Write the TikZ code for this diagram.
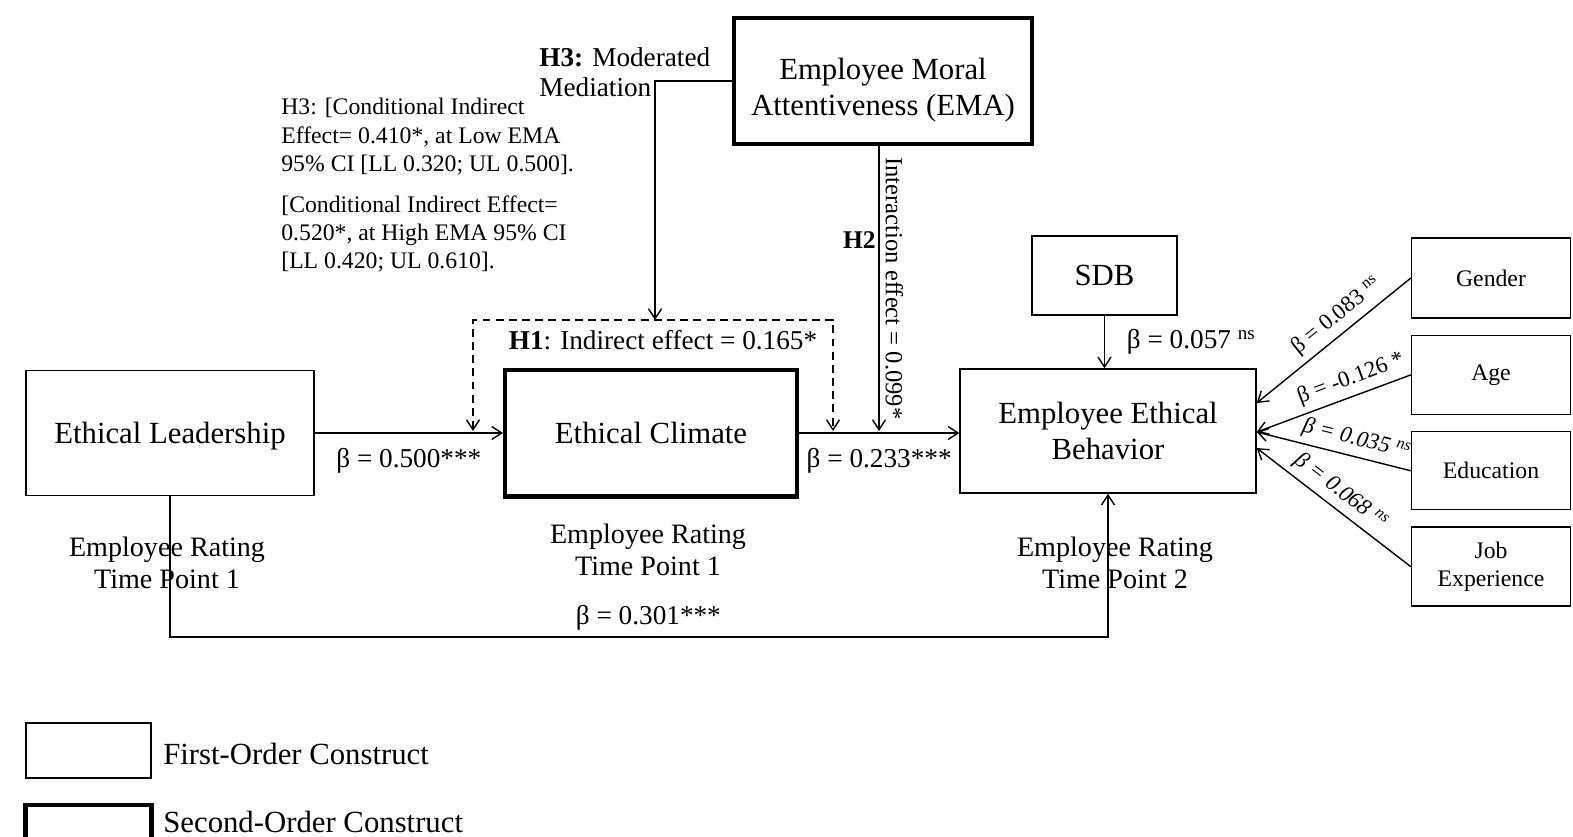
\documentclass[tikz,border=0pt]{standalone}
\usepackage{fontspec}
\setmainfont{Liberation Serif}
\usetikzlibrary{arrows.meta,positioning,calc}

\tikzset{
  construct/.style={draw, line width=0.8pt, align=center, font=\fontsize{17.5}{20.5}\selectfont},
  second/.style={construct, line width=2.3pt},
  control/.style={draw, line width=0.8pt, align=center, minimum width=3.18cm, font=\fontsize{13.5}{16}\selectfont},
  link/.style={line width=0.8pt, -{Straight Barb[length=2mm,width=2.6mm]}},
  dlink/.style={line width=0.8pt, dash pattern=on 4.5pt off 3pt, {Straight Barb[length=2mm,width=2.6mm]}-{Straight Barb[length=2mm,width=2.6mm]}},
  coef/.style={font=\fontsize{15.5}{18}\selectfont},
  ctlcoef/.style={sloped, above, font=\fontsize{13}{15}\selectfont},
  ctlslant/.style={ctlcoef, font=\fontsize{13}{15}\selectfont\itshape},
  note/.style={anchor=north west, align=left, inner sep=0pt, font=\fontsize{13.5}{16.2}\selectfont},
  rating/.style={align=center, font=\fontsize{16}{18}\selectfont}
}

\begin{document}
\begin{tikzpicture}[x=0.02cm, y=-0.02cm]
  \clip (0,0) rectangle (1573,836);

  \node[construct, text depth=0pt, minimum width=5.76cm, minimum height=2.5cm] (el) at (170,433) {Ethical Leadership};
  \node[second, text depth=0pt, minimum width=5.84cm, minimum height=2.54cm] (ec) at (651,433) {Ethical Climate};
  \node[second, minimum width=5.96cm, minimum height=2.52cm] (ema) at (883,81) {\rule{0pt}{22pt}Employee Moral\\Attentiveness (EMA)};
  \node[construct, minimum width=5.92cm, minimum height=2.48cm] (eeb) at (1108,431) {Employee Ethical\\Behavior};
  \node[construct, minimum width=2.9cm, minimum height=1.58cm] (sdb) at (1104.5,275.5) {SDB};

  \node[control, minimum height=1.6cm] (gender) at (1491,278) {Gender};
  \node[control, minimum height=1.58cm, below=0.32cm of gender] (age) {Age};
  \node[control, minimum height=1.56cm, below=0.32cm of age] (edu) {Education};
  \node[control, minimum height=1.58cm, below=0.32cm of edu] (jobexp) {Job\\Experience};

  \node[rating] (rate1) at (167,563) {Employee Rating\\Time Point 1};
  \node[rating] (rate2) at (648,550) {Employee Rating\\Time Point 1};
  \node[rating] (rate3) at (1115,563) {Employee Rating\\Time Point 2};

  \node[coef] (h1) at (663,340) {\textbf{H1}: Indirect effect = 0.165*};
  \node[anchor=north west, align=left, inner sep=0pt, font=\fontsize{15.5}{17}\selectfont] (h3) at (539,47) {\textbf{H3:} Moderated\\Mediation};
  \node[note] (cie1) at (281,98) {H3: [Conditional Indirect\\Effect= 0.410*, at Low EMA\\95\% CI [LL 0.320; UL 0.500].};
  \node[note] (cie2) at (281,195) {[Conditional Indirect Effect=\\0.520*, at High EMA 95\% CI\\{[}LL 0.420; UL 0.610].};

  \coordinate (d1) at (473,431);
  \coordinate (d2) at (833,431);
  \coordinate (ind) at (655,320);
  \coordinate (m2) at (879,431);
  \coordinate (bl) at (0,637);

  \draw[link] (el) -- node[below=5pt, coef] {β = 0.500***} (ec);
  \draw[link] (ec.east) -- node[below=5pt, coef] {β = 0.233***} (ec.east -| eeb.west);
  \draw[dlink] (d1) |- (ind) -| (d2);
  \draw[link] (ema.west) -| (ind);
  \draw[link] (ema.south -| m2) -- node[sloped, above, font=\fontsize{14}{16}\selectfont] {Interaction effect = 0.099*}
    node[pos=0.33, left, inner sep=1.5pt, font=\fontsize{14.5}{16}\selectfont] {\textbf{H2}} (m2);
  \draw[link] (sdb.south) -- node[right=9pt, coef] {β = 0.057 \textsuperscript{ns}} (sdb.south |- eeb.north);

  \draw[link] (gender.west) -- node[ctlcoef, pos=0.41] {β = 0.083 \textsuperscript{ns}} ($(eeb.east)+(0,-28)$);
  \draw[link] (age.west) -- node[ctlcoef, pos=0.35] {β = -0.126 *} ($(eeb.east)+(0,1)$);
  \draw[link] (edu.west) -- node[ctlslant, pos=0.38] {β = 0.035 \textsuperscript{ns}} ($(eeb.east)+(0,1)$);
  \draw[link] (jobexp.west) -- node[ctlslant, pos=0.52] {β = 0.068 \textsuperscript{ns}} ($(eeb.east)+(0,17)$);

  \draw[link] (el.south) -- (el.south |- bl) -- node[above, coef, pos=0.51] {β = 0.301***} (eeb.south |- bl) -- (eeb.south);

  \node[construct, minimum width=2.5cm, minimum height=1.1cm] (leg1) at (88.5,750.5) {};
  \node[second, minimum width=2.52cm, minimum height=1.1cm, below=0.48cm of leg1] (leg2) {};
  \node[anchor=base west, inner sep=0pt, font=\fontsize{17.5}{20}\selectfont] (leg1txt) at (163,764) {First-Order Construct};
  \node[anchor=base west, inner sep=0pt, font=\fontsize{17.5}{20}\selectfont] (leg2txt) at (163,832) {Second-Order Construct};
\end{tikzpicture}
\end{document}
